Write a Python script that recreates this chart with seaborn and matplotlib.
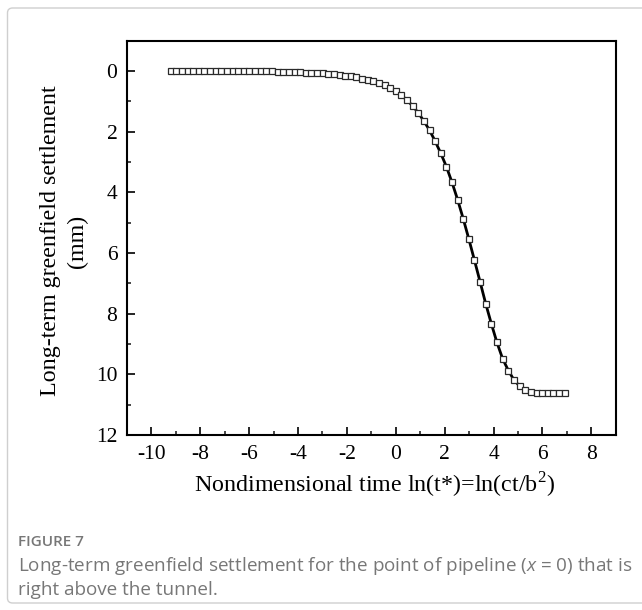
import numpy as np
import pandas as pd
import matplotlib
matplotlib.use("Agg")
import matplotlib.pyplot as plt
from matplotlib.patches import FancyBboxPatch
from matplotlib.ticker import MultipleLocator
import seaborn as sns

# ---- data ----
ln_time = [-9.21, -8.98, -8.75, -8.52, -8.29, -8.06, -7.83, -7.60, -7.37, -7.14,
           -6.91, -6.68, -6.45, -6.22, -5.99, -5.76, -5.53, -5.30, -5.07, -4.84,
           -4.61, -4.37, -4.14, -3.91, -3.68, -3.45, -3.22, -2.99, -2.76, -2.53,
           -2.30, -2.07, -1.84, -1.61, -1.38, -1.15, -0.92, -0.69, -0.46, -0.23,
           0.00, 0.23, 0.46, 0.69, 0.92, 1.15, 1.38, 1.61, 1.84, 2.07,
           2.30, 2.53, 2.76, 2.99, 3.22, 3.45, 3.68, 3.91, 4.14, 4.37,
           4.61, 4.84, 5.07, 5.30, 5.53, 5.76, 5.99, 6.22, 6.45, 6.68, 6.91]
settlement = [0.01, 0.01, 0.01, 0.01, 0.01, 0.01, 0.01, 0.01, 0.01, 0.01,
              0.01, 0.01, 0.01, 0.01, 0.01, 0.01, 0.01, 0.01, 0.01, 0.02,
              0.02, 0.03, 0.03, 0.04, 0.05, 0.06, 0.07, 0.08, 0.09, 0.11,
              0.13, 0.15, 0.18, 0.21, 0.25, 0.29, 0.34, 0.40, 0.47, 0.56,
              0.67, 0.80, 0.96, 1.15, 1.38, 1.65, 1.95, 2.31, 2.71, 3.15,
              3.67, 4.24, 4.87, 5.54, 6.24, 6.95, 7.67, 8.33, 8.95, 9.48,
              9.88, 10.19, 10.39, 10.52, 10.59, 10.62, 10.63, 10.63, 10.63, 10.63, 10.63]
x_ticks = [-10, -8, -6, -4, -2, 0, 2, 4, 6, 8]
y_ticks = [0, 2, 4, 6, 8, 10, 12]

x_label = "Nondimensional time ln(t*)=ln(ct/b$^{2}$)"
y_label = "Long-term greenfield settlement\n(mm)"
fig_tag = "FIGURE 7"
caption_1 = "Long-term greenfield settlement for the point of pipeline ($x$ = 0) that is"
caption_2 = "right above the tunnel."

df = pd.DataFrame({"t": ln_time, "s": settlement})

sns.set_theme(style="white")
plt.rcParams["font.family"] = ["Liberation Serif", "DejaVu Serif"]
plt.rcParams["mathtext.fontset"] = "custom"
plt.rcParams["mathtext.rm"] = "Liberation Serif"
plt.rcParams["mathtext.it"] = "Open Sans:italic"

fig = plt.figure(figsize=(6.42, 6.10), dpi=100)
fig.patch.set_facecolor("white")

# outer light frame
frame = FancyBboxPatch((7.5 / 642, 7 / 610), 650 / 642, 595 / 610,
                       boxstyle="round,pad=0,rounding_size=0.008",
                       transform=fig.transFigure, facecolor="none",
                       edgecolor="#cfcfcf", linewidth=1.0)
fig.patches.append(frame)

ax = fig.add_axes([127 / 642, 1 - 435 / 610, (615.7 - 127) / 642, (435 - 40.7) / 610])

sns.lineplot(data=df, x="t", y="s", ax=ax, color="black", linewidth=2.0,
             marker="s", markersize=5.0, markerfacecolor="white",
             markeredgecolor="#2a2a2a", markeredgewidth=0.9, sort=True)

ax.set_xlim(-11, 9)
ax.set_ylim(12, -1)
ax.set_xticks(x_ticks)
ax.set_yticks(y_ticks)
ax.xaxis.set_minor_locator(MultipleLocator(1))
ax.yaxis.set_minor_locator(MultipleLocator(1))
ax.set_xticklabels([str(v) for v in x_ticks])
ax.set_yticklabels([str(v) for v in y_ticks])

for side in ["left", "right", "top", "bottom"]:
    ax.spines[side].set_visible(True)
    ax.spines[side].set_color("black")
    ax.spines[side].set_linewidth(1.5)

ax.tick_params(axis="both", which="major", direction="in", length=5.5, width=1.2,
               labelsize=15.5, colors="black", pad=7, left=True, bottom=True,
               right=False, top=False)
ax.tick_params(axis="both", which="minor", direction="in", length=3, width=1.2,
               left=True, bottom=True, right=False, top=False)
ax.grid(False)

ax.set_xlabel(x_label, fontsize=17.3, color="black", va="center")
ax.xaxis.set_label_coords(0.507, -0.125)
ax.set_ylabel(y_label, fontsize=17.3, color="black", va="center", linespacing=1.4)
ax.yaxis.set_label_coords(-0.129, 0.492)

cap_font = ["Open Sans", "DejaVu Sans"]
fig.text(18 / 642, 1 - 542 / 610, fig_tag, fontsize=11, color="#777777",
         family=cap_font, weight="semibold", va="center")
fig.text(18 / 642, 1 - 566 / 610, caption_1, fontsize=13.6, color="#777777",
         family=cap_font, va="center")
fig.text(18 / 642, 1 - 590 / 610, caption_2, fontsize=13.6, color="#777777",
         family=cap_font, va="center")

fig.savefig("out.png", dpi=100, facecolor="white")
